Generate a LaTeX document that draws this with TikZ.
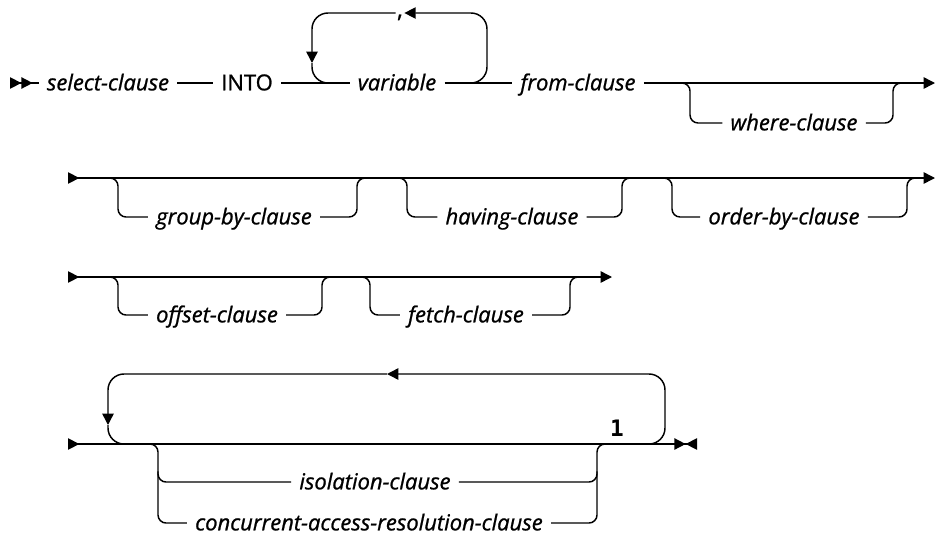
\documentclass[tikz,border=0pt]{standalone}
\usepackage{fontspec}
\setmainfont{Open Sans}[FakeBold=1.0]
\newfontfamily\notefont{DejaVu Sans Mono}
\usetikzlibrary{arrows.meta}

\tikzset{tri/.tip={Triangle[length=8.5pt,width=8.5pt]}}

\begin{document}
\begin{tikzpicture}[
  x=0.75pt, y=-0.75pt,
  rail/.style     = {line width=1.1pt, rounded corners=6pt},
  loopback/.style = {rail, rounded corners=12pt},
  nt/.style       = {font=\fontsize{16.5}{19}\selectfont\itshape, inner xsep=6pt,
                     inner ysep=0pt, text height=11pt, text depth=0pt},
  kw/.style       = {nt, font=\fontsize{16.5}{19}\selectfont},
  punct/.style    = {font=\fontsize{17}{19}\selectfont, inner sep=1pt, anchor=north},
  note/.style     = {font=\notefont\bfseries\fontsize{17}{19}\selectfont, inner sep=0pt},
]
  \useasboundingbox (0,0) rectangle (935,536);

  % row 1: select-clause INTO variable(,) from-clause [where-clause]
  \node[nt] (sel) at (108,83) {select-clause};
  \node[kw] (into) at (247,83) {INTO};
  \node[nt] (var) at (397,83) {variable};
  \node[nt] (from) at (578,83) {from-clause};
  \node[nt] (where) at (794,123) {where-clause};
  \node[punct] (comma) at (400,13) {,};
  \coordinate (start1) at (10,83);
  \coordinate (end1) at (935,83);
  \coordinate (v1) at (467,83);
  \coordinate (v2) at (487,13);
  \coordinate (v3) at (312,63);
  \coordinate (v4) at (332,83);
  \coordinate (wl) at (690,83);
  \coordinate (wr) at (893,83);

  \draw[rail,{tri[reversed]tri[reversed]}-] (start1) -- (sel);
  \draw[rail] (sel) -- (into);
  \draw[rail] (into) -- (var);
  \draw[rail] (var) -- (from);
  \draw[rail,-tri] (from) -- (end1);
  \draw[loopback,-tri] (v1) -| (v2) -- (comma.north east);
  \draw[loopback,-tri] (comma.north west) -| (v3);
  \draw[loopback] (v3) |- (v4);
  \draw[rail] ([xshift=-8pt]wl) -| (wl |- where) -- (where);
  \draw[rail] (where) -| (wr) -- ([xshift=8pt]wr);

  % row 2: [group-by-clause] [having-clause] [order-by-clause]
  \node[nt] (group) at (234,217) {group-by-clause};
  \node[nt] (having) at (512,217) {having-clause};
  \node[nt] (order) at (784,217) {order-by-clause};
  \coordinate (start2) at (68,178);
  \coordinate (end2) at (935,178);
  \coordinate (gl) at (118,178);
  \coordinate (gr) at (357,178);
  \coordinate (hl) at (407,178);
  \coordinate (hr) at (622,178);
  \coordinate (ol) at (672,178);
  \coordinate (or) at (907,178);

  \draw[rail,{tri[reversed]}-tri] (start2) -- (end2);
  \draw[rail] ([xshift=-8pt]gl) -| (gl |- group) -- (group);
  \draw[rail] (group) -| (gr) -- ([xshift=8pt]gr);
  \draw[rail] ([xshift=-8pt]hl) -| (hl |- having) -- (having);
  \draw[rail] (having) -| (hr) -- ([xshift=8pt]hr);
  \draw[rail] ([xshift=-8pt]ol) -| (ol |- order) -- (order);
  \draw[rail] (order) -| (or) -- ([xshift=8pt]or);

  % row 3: [offset-clause] [fetch-clause]
  \node[nt] (offset) at (217,315) {offset-clause};
  \node[nt] (fetch) at (466,315) {fetch-clause};
  \coordinate (start3) at (68,277);
  \coordinate (end3) at (612,277);
  \coordinate (fl) at (118,277);
  \coordinate (fr) at (322,277);
  \coordinate (el) at (370,277);
  \coordinate (er) at (570,277);

  \draw[rail,{tri[reversed]}-tri] (start3) -- (end3);
  \draw[rail] ([xshift=-8pt]fl) -| (fl |- offset) -- (offset);
  \draw[rail] (offset) -| (fr) -- ([xshift=8pt]fr);
  \draw[rail] ([xshift=-8pt]el) -| (el |- fetch) -- (fetch);
  \draw[rail] (fetch) -| (er) -- ([xshift=8pt]er);

  % row 4: repeatable choice, footnote 1
  \node[nt] (iso) at (375,482) {isolation-clause};
  \node[nt] (conc) at (369,523) {concurrent-access-resolution-clause};
  \node[note] (fn) at (617,428) {1};
  \coordinate (start4) at (68,444);
  \coordinate (end4) at (697,444);
  \coordinate (lj) at (130,444);
  \coordinate (rj) at (645,444);
  \coordinate (lt) at (665,374);
  \coordinate (ta) at (387,374);
  \coordinate (da) at (108,425);
  \coordinate (bl) at (158,444);
  \coordinate (br) at (597,444);

  \draw[rail,{tri[reversed]}-{tri[] tri[reversed]}] (start4) -- (end4);
  \draw[loopback,-tri] (rj) -| (lt) -- (ta);
  \draw[loopback,-tri] (ta) -| (da);
  \draw[loopback] (da) |- (lj);
  \draw[rail] ([xshift=-8pt]bl) -| (bl |- conc) -- (conc);
  \draw[rail] ([yshift=8pt]bl |- iso) |- (iso);
  \draw[rail] (conc) -| (br) -- ([xshift=8pt]br);
  \draw[rail] (iso) -| ([yshift=8pt]br |- iso);
\end{tikzpicture}
\end{document}
